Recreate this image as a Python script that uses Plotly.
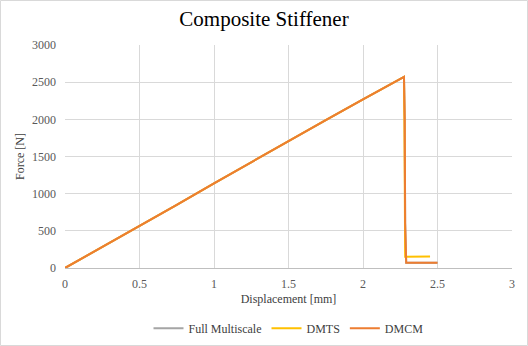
import plotly.graph_objects as go

# Data
full_x = [0, 0.25, 0.5, 0.75, 1.0, 1.25, 1.5, 1.75, 2.0, 2.275, 2.28, 2.283, 2.29, 2.5]
full_y = [0, 280, 562, 850, 1139, 1425, 1710, 1990, 2270, 2572, 2000, 600, 70, 70]
dmts_x = [0, 0.25, 0.5, 0.75, 1.0, 1.25, 1.5, 1.75, 2.0, 2.275, 2.278, 2.28, 2.283, 2.45]
dmts_y = [0, 280, 562, 850, 1139, 1425, 1710, 1990, 2270, 2572, 2000, 500, 150, 155]
dmcm_x = [0, 0.25, 0.5, 0.75, 1.0, 1.25, 1.5, 1.75, 2.0, 2.275, 2.28, 2.283, 2.29, 2.5]
dmcm_y = [0, 280, 562, 850, 1139, 1425, 1710, 1990, 2270, 2572, 2000, 600, 70, 70]

x_ticks = [0, 0.5, 1, 1.5, 2, 2.5, 3]
y_ticks = [0, 500, 1000, 1500, 2000, 2500, 3000]

FONT = "Liberation Serif"
W, H = 528, 346
ml, mr, mt, mb = 65, 16, 45, 78
pw, ph = W - ml - mr, H - mt - mb

fig = go.Figure()
fig.add_trace(go.Scatter(x=full_x, y=full_y, mode="lines", name="Full Multiscale",
                         line=dict(color="#a5a5a5", width=2)))
fig.add_trace(go.Scatter(x=dmts_x, y=dmts_y, mode="lines", name="DMTS",
                         line=dict(color="#ffc000", width=2)))
fig.add_trace(go.Scatter(x=dmcm_x, y=dmcm_y, mode="lines", name="DMCM",
                         line=dict(color="#ed7d31", width=2)))

fig.update_layout(
    width=W, height=H,
    margin=dict(l=ml, r=mr, t=mt, b=mb, autoexpand=False),
    paper_bgcolor="white", plot_bgcolor="white",
    font=dict(family=FONT, color="#595959", size=12),
    title=dict(text="Composite Stiffener", x=0.5, xanchor="center", y=0.945, yanchor="middle",
               font=dict(family=FONT, size=21, color="#000000")),
    xaxis=dict(range=[0, 3], tickvals=x_ticks, ticktext=[str(v) for v in x_ticks],
               showgrid=True, gridcolor="#d9d9d9", gridwidth=1,
               showline=True, linecolor="#bfbfbf", zeroline=False,
               title=dict(text="Displacement [mm]", font=dict(family=FONT, size=12, color="#404040"), standoff=4),
               ticks="", ticklabelstandoff=5,
               tickfont=dict(family=FONT, size=12, color="#595959")),
    yaxis=dict(range=[0, 3000], tickvals=y_ticks, ticktext=[str(v) for v in y_ticks],
               showgrid=True, gridcolor="#d9d9d9", gridwidth=1,
               showline=False, zeroline=False,
               title=dict(text="Force [N]", font=dict(family=FONT, size=12, color="#404040"), standoff=4),
               ticks="", ticklabelstandoff=8,
               tickfont=dict(family=FONT, size=12, color="#595959")),
    legend=dict(orientation="h", x=0.5, xanchor="center", y=-0.27, yanchor="middle",
                font=dict(family=FONT, size=12, color="#404040"), itemwidth=30),
    showlegend=True,
)

fig.add_shape(type="rect", xref="paper", yref="paper",
              x0=(-ml + 0.5) / pw, x1=1 + (mr - 0.5) / pw,
              y0=(-mb + 0.5) / ph, y1=1 + (mt - 0.5) / ph,
              line=dict(color="#d9d9d9", width=1), layer="below")

fig.write_html("out.html")
